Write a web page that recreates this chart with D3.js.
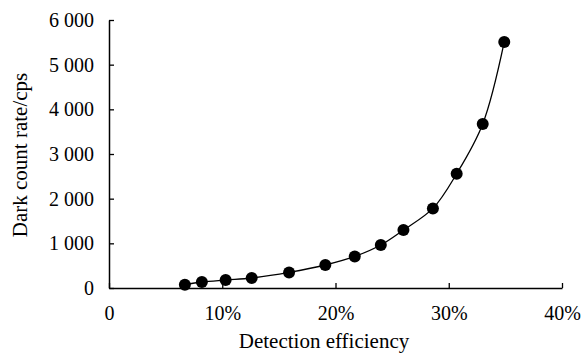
<!DOCTYPE html>
<html>
<head>
<meta charset="utf-8">
<script src="https://cdn.jsdelivr.net/npm/d3@7"></script>
<style>
  body { margin: 0; background: #fff; }
  svg text { font-family: "Liberation Serif", "Times New Roman", serif; fill: #000; }
</style>
</head>
<body>
<svg width="583" height="354"></svg>
<script>
// detection efficiency (%) vs dark count rate (cps)
var efficiency = [6.7, 8.2, 10.3, 12.6, 15.9, 19.1, 21.7, 24.0, 26.0, 28.6, 30.7, 33.0, 34.9];
var darkCount = [74, 134, 179, 224, 349, 515, 707, 963, 1299, 1782, 2559, 3672, 5508];
var xTicks = [0, 10, 20, 30, 40];
var yTicks = [0, 1000, 2000, 3000, 4000, 5000, 6000];

var svg = d3.select("svg"),
    margin = {top: 20, right: 21, bottom: 66, left: 109},
    width = 583 - margin.left - margin.right,
    height = 354 - margin.top - margin.bottom;

var x = d3.scaleLinear().domain([0, 40]).range([0, width]);
var y = d3.scaleLinear().domain([0, 6000]).range([height, 0]);

var g = svg.append("g").attr("transform", "translate(" + margin.left + "," + margin.top + ")");

var fmtY = function(d) {
  // space as thousands separator
  return d === 0 ? "0" : d3.format(",")(d).replace(",", " ");
};

var xAxis = g.append("g")
    .attr("transform", "translate(0," + height + ")")
    .call(d3.axisBottom(x).tickValues(xTicks).tickSizeInner(-5).tickSizeOuter(0)
      .tickFormat(function(d) { return d === 0 ? "0" : d + "%"; }));

var yAxis = g.append("g")
    .call(d3.axisLeft(y).tickValues(yTicks).tickSizeInner(-5).tickSizeOuter(0).tickFormat(fmtY));

[xAxis, yAxis].forEach(function(a) {
  a.select(".domain").attr("stroke", "#000").attr("stroke-width", 1.5);
  a.selectAll(".tick line").attr("stroke", "#000").attr("stroke-width", 1.3);
  a.selectAll("text").style("font-size", "20px").attr("fill", "#000");
});
xAxis.selectAll("text").attr("y", 18);
yAxis.selectAll("text").attr("x", -15);

var pts = efficiency.map(function(e, i) { return [e, darkCount[i]]; });

var line = d3.line()
    .x(function(d) { return x(d[0]); })
    .y(function(d) { return y(d[1]); })
    .curve(d3.curveCatmullRom.alpha(0.5));

g.append("path")
    .datum(pts)
    .attr("fill", "none")
    .attr("stroke", "#000")
    .attr("stroke-width", 1.3)
    .attr("d", line);

g.selectAll("circle")
    .data(pts)
  .enter().append("circle")
    .attr("cx", function(d) { return x(d[0]); })
    .attr("cy", function(d) { return y(d[1]); })
    .attr("r", 6)
    .attr("fill", "#000");

svg.append("text")
    .attr("x", 324)
    .attr("y", 348)
    .attr("text-anchor", "middle")
    .style("font-size", "21px")
    .text("Detection efficiency");

svg.append("text")
    .attr("transform", "translate(27,155) rotate(-90)")
    .attr("text-anchor", "middle")
    .style("font-size", "21px")
    .text("Dark count rate/cps");
</script>
</body>
</html>
